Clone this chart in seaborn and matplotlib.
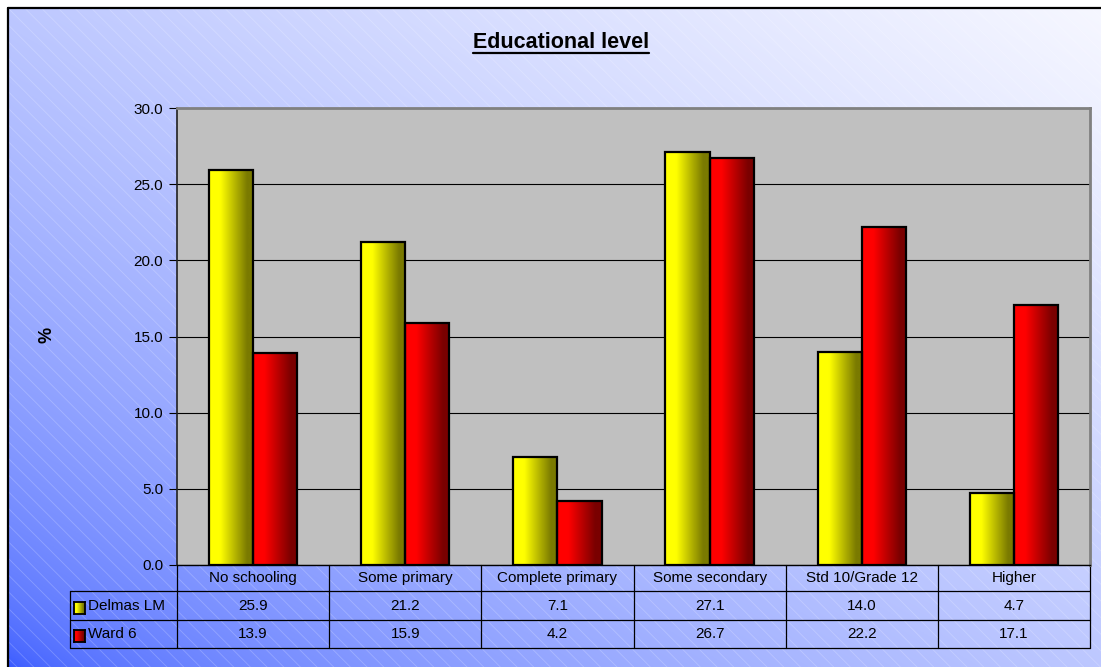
import numpy as np
import pandas as pd
import matplotlib
matplotlib.use("Agg")
import matplotlib.pyplot as plt
import matplotlib.transforms as mtransforms
from matplotlib.colors import LinearSegmentedColormap, to_rgb
from matplotlib.lines import Line2D
from matplotlib.patches import Rectangle
import seaborn as sns

# ---- data ----
levels = ["No schooling", "Some primary", "Complete primary",
          "Some secondary", "Std 10/Grade 12", "Higher"]
areas = ["Delmas LM", "Ward 6"]
delmas = [25.9, 21.2, 7.1, 27.1, 14.0, 4.7]
ward6 = [13.9, 15.9, 4.2, 26.7, 22.2, 17.1]
yticks = [0, 5, 10, 15, 20, 25, 30]

W, H, DPI = 1101, 667, 100

sns.set_theme(style="white")
plt.rcParams["font.family"] = ["Liberation Sans", "DejaVu Sans"]
plt.rcParams["hatch.linewidth"] = 0.6

fig = plt.figure(figsize=(W / DPI, H / DPI), dpi=DPI, facecolor="white")


def fx(px):
    return px / W


def fy(py):
    return 1 - py / H


# ---- chart-area background: diagonal blue-to-white gradient with fine hatching ----
bg = fig.add_axes([fx(8), 0, 1 - fx(8), fy(8)], zorder=0)
gx = np.linspace(0, 1, 500)
gy = np.linspace(0, 1, 300)
GX, GY = np.meshgrid(gx, gy)
t = np.clip((GX + GY) / 2, 0, 1) ** 0.5
c0 = np.array(to_rgb("#3355ff"))
c1 = np.array(to_rgb("#f6f7ff"))
img = c0[None, None, :] * (1 - t[..., None]) + c1[None, None, :] * t[..., None]
bg.imshow(img, origin="lower", extent=[0, 1, 0, 1], aspect="auto")
bg.add_patch(Rectangle((0, 0), 1, 1, transform=bg.transAxes, facecolor="none",
                       edgecolor="white", alpha=0.22, hatch="\\\\", linewidth=0))
bg.set_xlim(0, 1)
bg.set_ylim(0, 1)
bg.set_axis_off()

# ---- plot area ----
ax_l, ax_r, ax_t, ax_b = 177, 1090, 108, 565
ax = fig.add_axes([fx(ax_l), fy(ax_b), fx(ax_r) - fx(ax_l), fy(ax_t) - fy(ax_b)], zorder=2)
ax.set_facecolor("#c0c0c0")

df = pd.DataFrame({
    "level": levels * 2,
    "area": [areas[0]] * len(levels) + [areas[1]] * len(levels),
    "pct": delmas + ward6,
})
sns.barplot(data=df, x="level", y="pct", hue="area", order=levels, hue_order=areas,
            palette=["#ffff00", "#ff0000"], width=0.58, edgecolor="black",
            linewidth=1.6, errorbar=None, legend=False, ax=ax)

cmaps = [
    LinearSegmentedColormap.from_list("yel", [(0, "#ffff00"), (0.25, "#ffff00"),
                                              (0.85, "#7a7a00"), (1, "#7a7a00")]),
    LinearSegmentedColormap.from_list("red", [(0, "#ff0000"), (0.25, "#ff0000"),
                                              (0.85, "#7a0000"), (1, "#7a0000")]),
]
grad = np.linspace(0, 1, 256)[None, :]
for i, cont in enumerate(ax.containers):
    for bar in cont:
        x0, w, h = bar.get_x(), bar.get_width(), bar.get_height()
        im = ax.imshow(grad, cmap=cmaps[i], extent=[x0, x0 + w, 0, h],
                       aspect="auto", zorder=1.5, interpolation="bilinear")
        im.set_clip_path(bar)
        bar.set_facecolor("none")
        bar.set_zorder(2)

ax.set_xlim(-0.5, len(levels) - 0.5)
ax.set_ylim(0, 30)
ax.set_aspect("auto")
ax.set_yticks(yticks)
ax.set_yticklabels([f"{v:.1f}" for v in yticks])
ax.set_xticks(range(len(levels)))
ax.set_xticklabels([])
ax.tick_params(axis="y", left=True, direction="out", length=6, width=0.8,
               color="black", pad=4, labelsize=11, labelcolor="black")
ax.tick_params(axis="x", bottom=False, length=0)
ax.set_xlabel("")
ax.set_ylabel("")
ax.yaxis.grid(True, color="black", linewidth=0.8)
ax.xaxis.grid(False)
ax.set_axisbelow(True)
ax.spines["left"].set_color("#202020")
ax.spines["left"].set_linewidth(1.2)
ax.spines["bottom"].set_color("black")
ax.spines["bottom"].set_linewidth(1.0)
for s in ("top", "right"):
    ax.spines[s].set_color("#808080")
    ax.spines[s].set_linewidth(2.0)

# ---- data table below the plot ----
trans = mtransforms.blended_transform_factory(ax.transData, ax.transAxes)


def ay(py):
    return (ax_b - py) / (ax_b - ax_t)


def dx(px):
    return -0.5 + (px - ax_l) / (ax_r - ax_l) * len(levels)


row_lines = [591, 620, 648]
lw_tab = 0.9
for py in row_lines:
    ax.add_line(Line2D([dx(70), dx(ax_r)], [ay(py), ay(py)], transform=trans,
                       color="black", lw=lw_tab, clip_on=False))
for k in range(len(levels) + 1):
    ax.add_line(Line2D([k - 0.5, k - 0.5], [0, ay(648)], transform=trans,
                       color="black", lw=lw_tab, clip_on=False))
ax.add_line(Line2D([dx(70), dx(70)], [ay(591), ay(648)], transform=trans,
                   color="black", lw=lw_tab, clip_on=False))

for k, lab in enumerate(levels):
    ax.text(k, ay(578), lab, transform=trans, ha="center", va="center",
            fontsize=11, color="black", clip_on=False)
    ax.text(k, ay(606), f"{delmas[k]:.1f}", transform=trans, ha="center",
            va="center", fontsize=11, color="black", clip_on=False)
    ax.text(k, ay(634), f"{ward6[k]:.1f}", transform=trans, ha="center",
            va="center", fontsize=11, color="black", clip_on=False)

for name, py in zip(areas, [606, 634]):
    ax.text(dx(88), ay(py), name, transform=trans, ha="left", va="center",
            fontsize=11, color="black", clip_on=False)

# legend keys in the table's row headers
for i, py in enumerate([608, 636]):
    kax = fig.add_axes([fx(74), fy(py + 6), 11 / W, 12 / H], zorder=5)
    kax.imshow(grad, cmap=cmaps[i], aspect="auto", extent=[0, 1, 0, 1])
    kax.set_xticks([])
    kax.set_yticks([])
    for s in kax.spines.values():
        s.set_visible(True)
        s.set_color("black")
        s.set_linewidth(1.3)

# ---- titles ----
title = fig.text(fx(561), fy(42), "Educational level", ha="center", va="center",
                 fontsize=15.5, fontweight="bold", color="black")
fig.text(fx(47), fy(335), "%", ha="center", va="center", rotation=90,
         fontsize=13, fontweight="bold", color="black")

fig.canvas.draw()
bb = title.get_window_extent(fig.canvas.get_renderer())
fig.add_artist(Line2D([bb.x0 / W, bb.x1 / W], [fy(52.5), fy(52.5)],
                      transform=fig.transFigure, color="black", lw=1.6))

# outer frame (top and left edges)
fig.add_artist(Line2D([fx(8), 1], [fy(8), fy(8)], transform=fig.transFigure,
                      color="black", lw=1.6))
fig.add_artist(Line2D([fx(8), fx(8)], [0, fy(8)], transform=fig.transFigure,
                      color="black", lw=1.6))

fig.savefig("out.png", dpi=DPI, facecolor="white")
